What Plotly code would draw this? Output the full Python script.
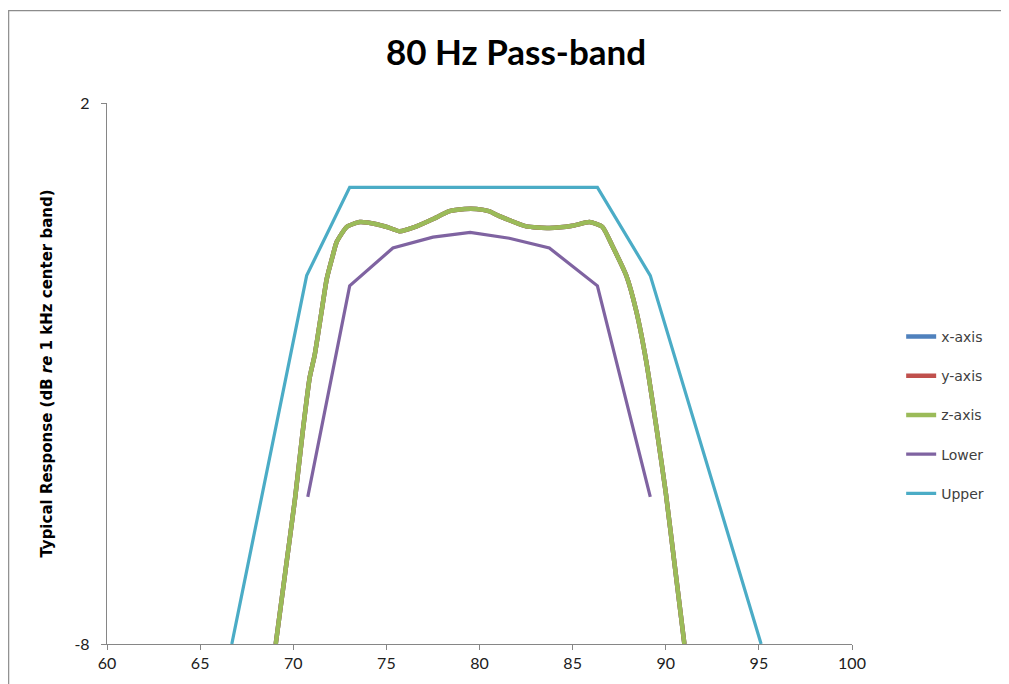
import plotly.graph_objects as go

# response curve (x, y, z identical - z drawn on top)
freq = [69.06, 69.6, 70.1, 70.5, 70.88, 71.15, 71.5, 71.8, 72.1, 72.33, 72.87, 73.57,
        74.48, 75.1, 75.71, 76.62, 77.48, 78.39, 79.2, 79.84, 80.5, 81.07, 82.52,
        83.75, 84.99, 85.9, 86.6, 87.13, 87.88, 88.42, 88.95, 89.5, 90.0, 90.5, 91.0]
resp = [-8.0, -6.6, -5.3, -4.1, -3.08, -2.66, -1.9, -1.25, -0.85, -0.57, -0.29, -0.2,
        -0.24, -0.3, -0.37, -0.28, -0.15, 0.0, 0.04, 0.04, 0.0, -0.09, -0.28,
        -0.31, -0.27, -0.2, -0.29, -0.64, -1.19, -1.85, -2.77, -4.0, -5.2, -6.6, -8.0]

lower_f = [70.78, 73.03, 75.35, 77.5, 79.5, 81.6, 83.75, 86.33, 89.17]
lower_v = [-5.28, -1.38, -0.68, -0.48, -0.39, -0.5, -0.68, -1.38, -5.28]

upper_f = [66.7, 70.72, 73.03, 86.33, 89.17, 95.12]
upper_v = [-8.0, -1.19, 0.44, 0.44, -1.19, -8.0]

y_ticks = [-8, 2]
y_ticklabels = ["-8", "2"]

series = [
    ("x-axis", freq, resp, "#4F81BD", 4.5, 0.5),
    ("y-axis", freq, resp, "#C0504D", 4.5, 0.5),
    ("z-axis", freq, resp, "#9BBB59", 4.5, 0.5),
    ("Lower", lower_f, lower_v, "#7F63A1", 3.2, 0),
    ("Upper", upper_f, upper_v, "#4BACC6", 3.2, 0),
]

fig = go.Figure()
for name, xs, ys, col, w, sm in series:
    fig.add_trace(go.Scatter(x=xs, y=ys, name=name, mode="lines",
                             line=dict(color=col, width=w, shape="spline", smoothing=sm),
                             legendgroup=name))

axcol = "#868686"
# the page body adds 8px around the figure, so sizes are trimmed to match
fig.update_layout(
    width=1001, height=676,
    margin=dict(l=99, r=157, t=95, b=36),
    paper_bgcolor="white", plot_bgcolor="white",
    font=dict(family="Lato, Open Sans, sans-serif", color="#404040", size=14),
    title=dict(text="<b>80 Hz Pass-band</b>", xref="container", x=0.5075, xanchor="center",
               y=0.934, yanchor="middle", font=dict(size=35, color="black")),
    legend=dict(x=1.066, y=0.597, xanchor="left", yanchor="top", tracegroupgap=18,
                font=dict(size=14, color="#404040", family="DejaVu Sans"),
                bgcolor="rgba(0,0,0,0)"),
    showlegend=True,
)
fig.update_xaxes(range=[60, 100], dtick=5, tick0=60, showgrid=False, zeroline=False,
                 showline=True, linecolor=axcol, linewidth=1.3,
                 ticks="outside", ticklen=5, tickcolor=axcol,
                 tickfont=dict(size=16, color="#202020"))
fig.update_yaxes(range=[-8, 2], tickvals=y_ticks, ticktext=y_ticklabels,
                 showgrid=True, gridcolor=axcol, gridwidth=1.2,
                 zeroline=False, showline=True, linecolor=axcol, linewidth=1.3,
                 ticks="outside", ticklen=5, tickcolor=axcol, ticklabelstandoff=8,
                 tickfont=dict(size=16, color="#202020"),
                 title=dict(text="<b>Typical Response (dB <i>re</i> 1 kHz center band)</b>",
                            font=dict(size=15, color="black", family="DejaVu Sans"), standoff=18))

# chart-area border
fig.add_shape(type="rect", xref="paper", yref="paper",
              x0=-0.132, y0=-0.08, x1=1.22, y1=1.1706,
              line=dict(color="#8c8c8c", width=1.2), fillcolor="rgba(0,0,0,0)", layer="below")

fig.write_html("out.html")
